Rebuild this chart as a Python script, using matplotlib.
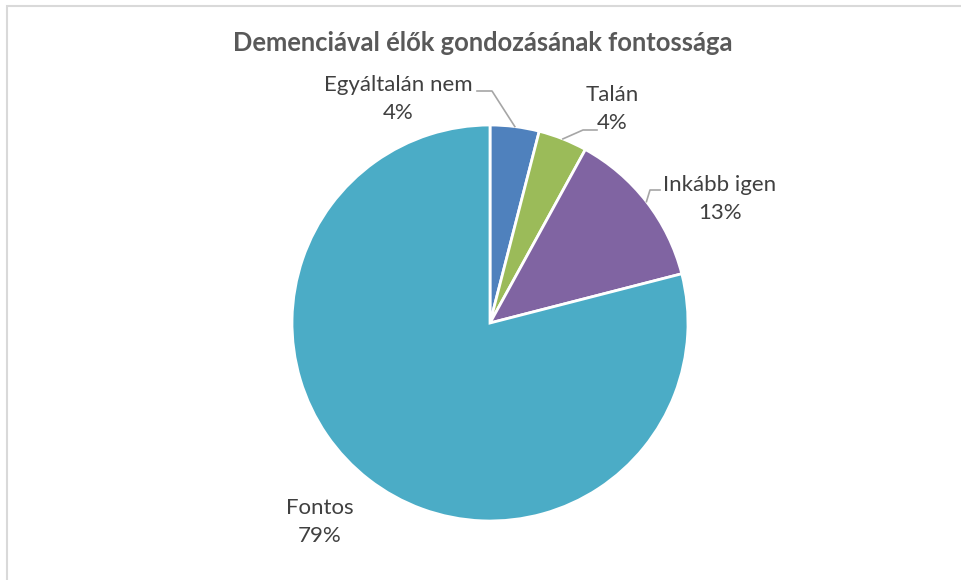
import numpy as np
import matplotlib.pyplot as plt
from matplotlib.patches import Rectangle

plt.rcParams['font.family'] = ['Lato', 'DejaVu Sans']

# adatok
title = "Demenciával élők gondozásának fontossága"
categories = ["Egyáltalán nem", "Talán", "Inkább igen", "Fontos"]
values = [4, 4, 13, 79]
colors = ["#4F81BD", "#9BBB59", "#8064A2", "#4BACC6"]

W, H = 962, 580
cx, cy, r = 490, 323, 198

fig = plt.figure(figsize=(W / 100, H / 100), dpi=100)
fig.patch.set_facecolor("white")

# keret a diagram körül
fig.patches.append(Rectangle((7.5 / W, -0.1), 1.2, (H - 5.5) / H + 0.1,
                             transform=fig.transFigure, fill=False,
                             edgecolor="#D9D9D9", linewidth=1.5))

ax = fig.add_axes([(cx - r) / W, (H - cy - r) / H, 2 * r / W, 2 * r / H])
ax.pie(values, colors=colors, startangle=90, counterclock=False, radius=1,
       wedgeprops=dict(edgecolor="white", linewidth=2))
ax.set_xlim(-1, 1)
ax.set_ylim(-1, 1)
ax.set_aspect("equal")
ax.axis("off")


def px(x, y):
    # pixel -> adatkoordináta (sugár egység)
    return (x - cx) / r, (cy - y) / r


# címkék helyei és vezetővonalak (pixelben)
label_pos = [(398, 99), (612, 109), (720, 199), (320, 522)]
leader_elbows = [[(477, 91), (492, 91)], [(597, 130), (583, 130)],
                 [(660, 190), (650, 190)], None]

cum = np.cumsum([0] + values[:-1])
for i, (cat, val) in enumerate(zip(categories, values)):
    lx, ly = px(*label_pos[i])
    ax.text(lx, ly, f"{cat}\n{val}%", ha="center", va="center",
            fontsize=16, color="#404040", linespacing=1.55, clip_on=False)
    if leader_elbows[i] is not None:
        mid = (cum[i] + val / 2) / 100 * 2 * np.pi
        ex, ey = np.sin(mid), np.cos(mid)
        pts = [px(*p) for p in leader_elbows[i]] + [(ex, ey)]
        xs, ys = zip(*pts)
        ax.plot(xs, ys, color="#A6A6A6", lw=1.2, clip_on=False)

fig.text(483 / W, 1 - 43 / H, title, ha="center", va="center",
         fontsize=18.4, fontweight="bold", color="#595959")

fig.savefig("out.png", dpi=100)
